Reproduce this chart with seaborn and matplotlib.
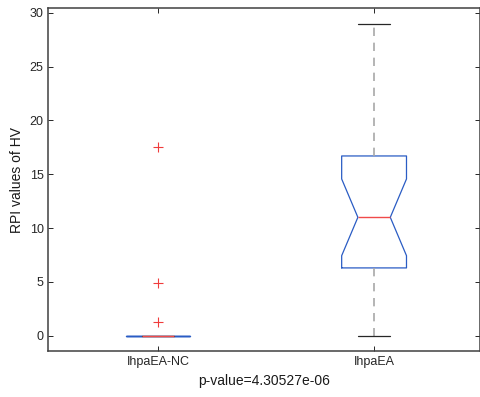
# -*- coding: utf-8 -*-
# Notched boxplot of RPI values of HV for two groups (MATLAB look)

import pandas as pd
import seaborn as sns
from matplotlib import pyplot as plt

# Data
groups = ["IhpaEA-NC", "IhpaEA"]
rpi_nc = [0.0] * 18 + [1.3, 4.9, 17.5]
rpi_ea = [0.0, 1.2, 2.5, 3.8, 5.1, 6.3, 7.4, 8.5, 9.6, 10.4, 11.0,
          12.3, 13.5, 14.6, 15.8, 16.7, 18.9, 21.4, 24.2, 26.8, 29.0]
y_ticks = [0, 5, 10, 15, 20, 25, 30]
p_label = "p-value=4.30527e-06"

df = pd.DataFrame({
    "group": [groups[0]] * len(rpi_nc) + [groups[1]] * len(rpi_ea),
    "rpi": rpi_nc + rpi_ea,
})

sns.set_style("ticks")
plt.rcParams["font.family"] = ["Liberation Sans", "DejaVu Sans"]
plt.rcParams["xtick.direction"] = "in"
plt.rcParams["ytick.direction"] = "in"

fig = plt.figure(figsize=(4.8, 3.97), dpi=100)
ax = fig.add_axes([0.101, 0.115, 0.898, 0.865])

sns.boxplot(data=df, x="group", y="rpi", order=groups, ax=ax,
            notch=True, fill=False, width=0.3, whis=1.5,
            boxprops=dict(color="#2a5cc4", linewidth=0.9),
            medianprops=dict(color="#f04a4a", linewidth=1.0),
            whiskerprops=dict(color="#a8a8a8", linewidth=1.2, linestyle=(0, (5, 4))),
            capprops=dict(color="#262626", linewidth=0.9),
            flierprops=dict(marker="+", markeredgecolor="#f03c3c",
                            markersize=7, markeredgewidth=0.8))

ax.set_xlim(-0.507, 1.488)
ax.set_ylim(-1.45, 30.45)
ax.set_yticks(y_ticks)
ax.set_ylabel("RPI values of HV", fontsize=10, color="#1a1a1a")
ax.set_xlabel(p_label, fontsize=10, color="#1a1a1a", labelpad=4)

for side in ["left", "right", "top", "bottom"]:
    ax.spines[side].set_visible(True)
    ax.spines[side].set_color("#404040")
    ax.spines[side].set_linewidth(1.1)
ax.tick_params(axis="both", which="both", top=True, right=True,
               length=3.5, width=0.7, color="#262626",
               labelsize=9, labelcolor="#262626")

fig.savefig("out.png", dpi=100)
